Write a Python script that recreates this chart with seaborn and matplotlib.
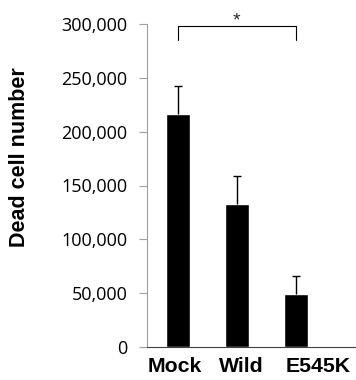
import matplotlib
matplotlib.use("Agg")
import matplotlib.pyplot as plt
import matplotlib.transforms as mtransforms
import seaborn as sns
import pandas as pd
import numpy as np
from matplotlib.ticker import FuncFormatter

categories = ["Mock", "Wild", "E545K"]
values = [216000, 133000, 49000]
errors = [26000, 26000, 17000]
yticks = [0, 50000, 100000, 150000, 200000, 250000, 300000]

sns.set_style("white")
plt.rcParams['font.family'] = ['Liberation Sans', 'DejaVu Sans']

df = pd.DataFrame({"cat": categories, "val": values})

fig = plt.figure(figsize=(3.56, 3.80), dpi=100)
ax = fig.add_axes([147/356, 33/380, 1 - 147/356, (347-24)/380])

sns.barplot(data=df, x="cat", y="val", color="black", width=0.41,
            errorbar=None, ax=ax, saturation=1)
eb = ax.errorbar(np.arange(len(categories)), values, yerr=[np.zeros(len(errors)), errors],
                 fmt="none", ecolor="black", elinewidth=1, capsize=3, capthick=1)
eb[1][0].set_visible(False)

ax.set_xlim(-0.525, 3.02)
ax.set_ylim(0, 300000)
ax.set_yticks(yticks)
ax.yaxis.set_major_formatter(FuncFormatter(lambda v, p: f"{int(v):,}"))
for s in ["top", "right"]:
    ax.spines[s].set_visible(False)
ax.spines["left"].set_color("#a0a0a0")
ax.spines["bottom"].set_color("#404040")
ax.tick_params(axis="y", which="major", left=True, length=6, color="#a0a0a0",
               labelsize=13, pad=8, labelcolor="black")
for t in ax.get_yticklabels():
    t.set_fontfamily("Open Sans")
ax.tick_params(axis="x", length=0, labelsize=15.3, pad=7, labelcolor="black")
shifts = [-3.5, 4.5, 22]
for t, dx in zip(ax.get_xticklabels(), shifts):
    t.set_fontweight("bold")
    t.set_transform(t.get_transform() + mtransforms.ScaledTranslation(dx / 100, 0, fig.dpi_scale_trans))
ax.set_xlabel("")
ax.set_ylabel("Dead cell number", fontsize=15.5, fontweight="bold", color="black")
ax.yaxis.set_label_coords(-(147 - 30) / (356 - 147), (347 - 157) / 323)

# significance bracket
y0 = 285000; y1 = 298000
ax.plot([0, 0, 2, 2], [y0, y1, y1, y0], color="black", lw=0.8, clip_on=False)
ax.text(1, 295000, "*", ha="center", va="bottom", fontsize=14, clip_on=False)

fig.savefig("out.png", dpi=100)
